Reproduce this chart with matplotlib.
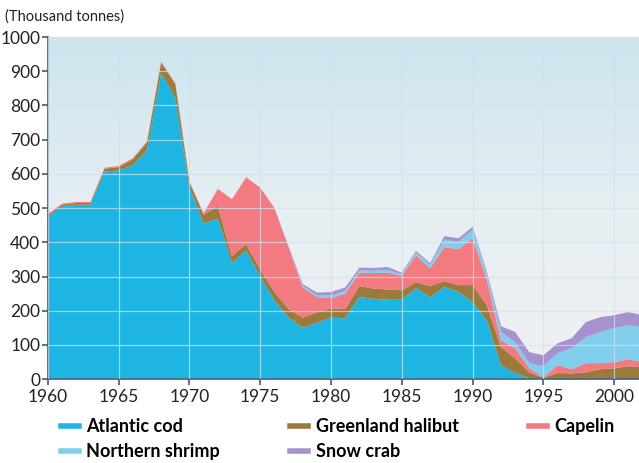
import matplotlib
matplotlib.use("Agg")
import matplotlib.pyplot as plt
from matplotlib.lines import Line2D
from matplotlib.colors import LinearSegmentedColormap
import numpy as np

plt.rcParams['font.family'] = ['Lato', 'DejaVu Sans']

years = list(range(1960, 2003))

# thousand tonnes
cod = [475, 505, 510, 510, 607, 610, 625, 670, 895, 822,
       560, 455, 470, 340, 375, 300, 230, 180, 150, 165,
       180, 178, 240, 235, 232, 232, 266, 240, 269, 255,
       225, 172, 41, 18, 3, 1, 1, 1, 1, 1,
       1, 1, 1]
halibut = [5, 5, 5, 5, 8, 10, 18, 22, 30, 40,
           15, 25, 36, 20, 20, 20, 25, 25, 30, 30,
           27, 27, 32, 30, 30, 28, 18, 32, 18, 20,
           50, 45, 53, 43, 17, 3, 17, 16, 19, 28,
           31, 37, 34]
capelin = [3, 3, 3, 3, 3, 3, 3, 3, 3, 3,
           3, 5, 50, 166, 195, 240, 245, 180, 88, 45,
           30, 45, 40, 45, 50, 42, 78, 52, 99, 105,
           137, 73, 20, 30, 12, 2, 23, 12, 27, 18,
           18, 20, 15]
shrimp = [0, 0, 0, 0, 0, 0, 0, 0, 0, 0,
          0, 0, 0, 0, 0, 0, 0, 2, 5, 5,
          8, 8, 6, 7, 8, 5, 8, 10, 22, 22,
          25, 15, 24, 17, 15, 32, 35, 62, 76, 91,
          99, 100, 102]
crab = [0, 0, 0, 0, 0, 0, 0, 0, 0, 0,
        0, 0, 0, 0, 0, 0, 0, 2, 5, 8,
        10, 10, 8, 8, 8, 4, 5, 5, 10, 10,
        8, 8, 17, 30, 32, 32, 29, 29, 44, 43,
        38, 38, 35]

names = ["Atlantic cod", "Greenland halibut", "Capelin", "Northern shrimp", "Snow crab"]
colors = ["#1fb5e3", "#9b7a3c", "#f27a80", "#80cdec", "#a592cf"]

fig = plt.figure(figsize=(6.39, 4.63), dpi=100)
ax = fig.add_axes([0.075, 0.181, 0.925, 0.739])

# background gradient
grad = np.linspace(0, 1, 256).reshape(-1, 1)
bg = LinearSegmentedColormap.from_list("bg", ["#eff1f3", "#e6eef2", "#cde4ee"])
ax.imshow(grad, cmap=bg, extent=[1960, 2002, 0, 1000], aspect="auto",
          origin="lower", zorder=0)

ax.stackplot(years, cod, halibut, capelin, shrimp, crab, colors=colors,
             linewidth=0, zorder=1)

ax.set_xlim(1960, 2001.75)
ax.set_ylim(0, 1000)
ax.set_xticks(range(1960, 2001, 5))
ax.set_yticks(range(0, 1001, 100))
ax.grid(True, color="#cfe3ee", alpha=0.7, linewidth=0.9, zorder=2)
ax.set_axisbelow(False)

for s in ["top", "right"]:
    ax.spines[s].set_visible(False)
for s in ["left", "bottom"]:
    ax.spines[s].set_color("#3b5b78")
    ax.spines[s].set_linewidth(1.2)
ax.tick_params(axis="both", colors="#3b5b78", length=4, width=1.2,
               labelsize=12.5, labelcolor="#222222")
ax.tick_params(axis="x", pad=3)
ax.tick_params(axis="y", pad=1.5)

fig.text(0.008, 0.965, "(Thousand tonnes)", fontsize=10.5, color="#222222",
         va="center", ha="left")

order = [0, 3, 1, 4, 2]
handles = [Line2D([0], [0], color=colors[i], lw=4) for i in order]
labels = [names[i] for i in order]
fig.legend(handles, labels, ncol=3, loc="center left",
           bbox_to_anchor=(0.07, 0.052), frameon=False,
           prop={"size": 13, "weight": "bold"}, handlelength=1.0,
           handletextpad=0.4, columnspacing=3.9, labelspacing=0.45)

fig.savefig("out.png", dpi=100)
